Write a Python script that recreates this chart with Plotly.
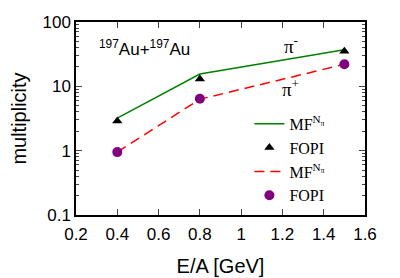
import plotly.graph_objects as go

energy = [0.4, 0.8, 1.5]
mf_pim = [3.2, 15.5, 37.0]
fopi_pim = [2.9, 13.0, 35.0]
mf_pip = [0.95, 6.3, 22.0]
fopi_pip = [0.95, 6.4, 22.0]

ytickvals = [0.1, 1, 10, 100]
yticktext = ["0.1", "1", "10", "100"]
yminor = [m * 10 ** e for e in (-1, 0, 1) for m in range(2, 10)]

serif = "Liberation Serif"
sans = "Liberation Sans"
lbl = "MF<sup>N<sub>π</sub></sup>"

fig = go.Figure()
fig.add_trace(go.Scatter(x=energy, y=mf_pim, mode="lines", name=lbl,
                         line=dict(color="#008000", width=1.5)))
fig.add_trace(go.Scatter(x=energy, y=fopi_pim, mode="markers", name="FOPI",
                         marker=dict(symbol="triangle-up", color="black", size=9)))
fig.add_trace(go.Scatter(x=energy, y=mf_pip, mode="lines", name=lbl,
                         line=dict(color="#ff0000", width=1.5, dash="10px,6px")))
fig.add_trace(go.Scatter(x=energy, y=fopi_pip, mode="markers", name="FOPI",
                         marker=dict(symbol="circle", color="#800080", size=10)))

fig.update_layout(
    width=400, height=278,
    margin=dict(l=76, r=35, t=22, b=63),
    plot_bgcolor="white", paper_bgcolor="white",
    font=dict(family=sans, size=17, color="black"),
    showlegend=True,
    legend=dict(x=0.6, y=0.56, xanchor="left", yanchor="top",
                bgcolor="rgba(0,0,0,0)", font=dict(family=serif, size=16),
                tracegroupgap=0, itemwidth=30),
    annotations=[
        dict(x=0.3, y=1.6, xref="x", yref="y", showarrow=False,
             text="<sup>197</sup>Au+<sup>197</sup>Au", xanchor="left",
             font=dict(family=sans, size=17)),
        dict(x=1.24, y=1.64, xref="x", yref="y", showarrow=False,
             text="π<sup>-</sup>", font=dict(family=serif, size=19)),
        dict(x=1.24, y=0.98, xref="x", yref="y", showarrow=False,
             text="π<sup>+</sup>", font=dict(family=serif, size=19)),
    ],
)
fig.update_xaxes(range=[0.2, 1.6], dtick=0.2, tick0=0.2, ticks="inside", ticklen=6,
                 showline=True, linecolor="black", linewidth=1.5, mirror="allticks",
                 showgrid=False, zeroline=False, automargin=False, ticklabelstandoff=3,
                 title=dict(text="E/A [GeV]", standoff=16))
fig.update_yaxes(type="log", range=[-1, 2], tickvals=ytickvals, ticktext=yticktext,
                 ticks="inside", ticklen=6, showline=True, linecolor="black", linewidth=1.5,
                 mirror="allticks", showgrid=False, zeroline=False, automargin=False,
                 minor=dict(tickvals=yminor, ticks="inside", ticklen=3, showgrid=False),
                 title=dict(text="multiplicity", standoff=10))

fig.write_html("out.html", config={"displayModeBar": False},
               post_script="document.body.style.margin='0';")
